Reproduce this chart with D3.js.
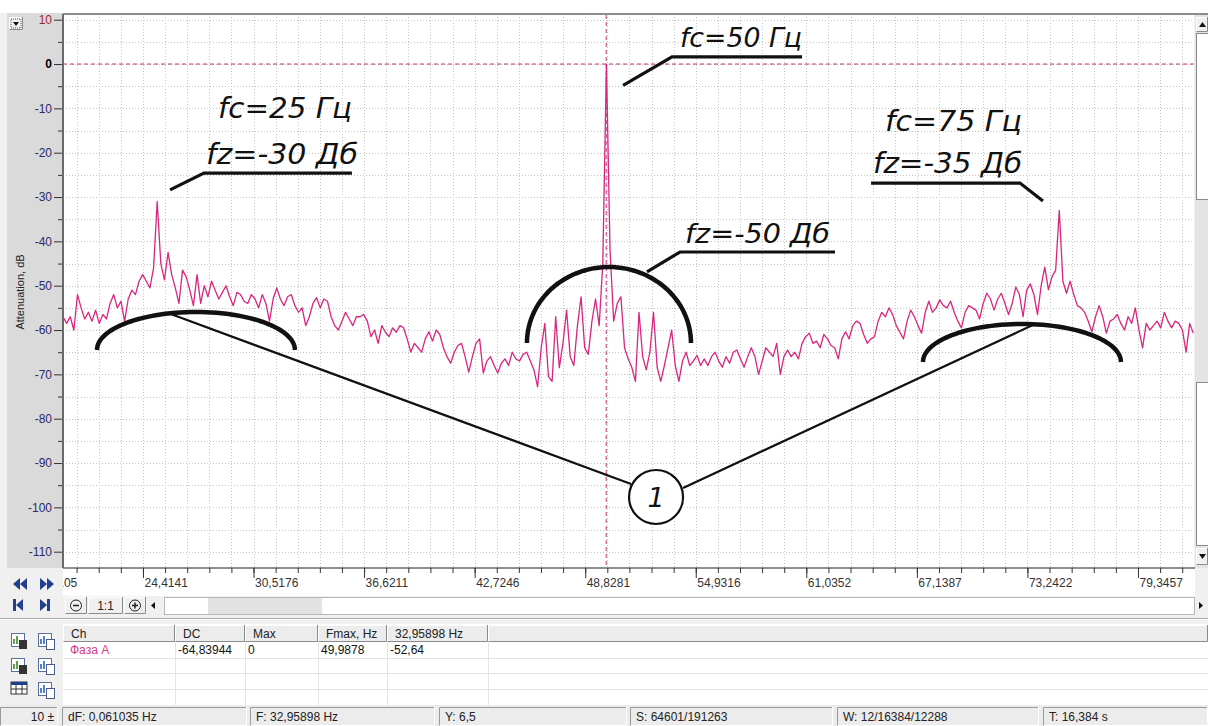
<!DOCTYPE html>
<html><head><meta charset="utf-8">
<script src="https://cdn.jsdelivr.net/npm/d3@7"></script>
<style>
html,body{margin:0;padding:0;background:#fff;}
svg{display:block;font-family:"Liberation Sans",Arial,sans-serif;}
</style></head><body>
<svg id="c" width="1208" height="726"></svg>
<script>
// Spectrum bins (Hz)
const freqHz = [
20,20.2,20.4,20.6,20.8,21,21.2,21.4,21.6,21.8,22,22.2,22.4,22.6,22.8,23,23.2,23.4,23.6,23.8,
24,24.2,24.4,24.6,24.8,25,25.2,25.4,25.6,25.8,26,26.2,26.4,26.6,26.8,27,27.2,27.4,27.6,27.8,
28,28.2,28.4,28.6,28.8,29,29.2,29.4,29.6,29.8,30,30.2,30.4,30.6,30.8,31,31.2,31.4,31.6,31.8,
32,32.2,32.4,32.6,32.8,33,33.2,33.4,33.6,33.8,34,34.2,34.4,34.6,34.8,35,35.2,35.4,35.6,35.8,
36,36.2,36.4,36.6,36.8,37,37.2,37.4,37.6,37.8,38,38.2,38.4,38.6,38.8,39,39.2,39.4,39.6,39.8,
40,40.2,40.4,40.6,40.8,41,41.2,41.4,41.6,41.8,42,42.2,42.4,42.6,42.8,43,43.2,43.4,43.6,43.8,
44,44.2,44.4,44.6,44.8,45,45.2,45.4,45.6,45.8,46,46.2,46.4,46.6,46.8,47,47.2,47.4,47.6,47.8,
48,48.2,48.4,48.6,48.8,49,49.2,49.4,49.6,49.8,50,50.2,50.4,50.6,50.8,51,51.2,51.4,51.6,51.8,
52,52.2,52.4,52.6,52.8,53,53.2,53.4,53.6,53.8,54,54.2,54.4,54.6,54.8,55,55.2,55.4,55.6,55.8,
56,56.2,56.4,56.6,56.8,57,57.2,57.4,57.6,57.8,58,58.2,58.4,58.6,58.8,59,59.2,59.4,59.6,59.8,
60,60.2,60.4,60.6,60.8,61,61.2,61.4,61.6,61.8,62,62.2,62.4,62.6,62.8,63,63.2,63.4,63.6,63.8,
64,64.2,64.4,64.6,64.8,65,65.2,65.4,65.6,65.8,66,66.2,66.4,66.6,66.8,67,67.2,67.4,67.6,67.8,
68,68.2,68.4,68.6,68.8,69,69.2,69.4,69.6,69.8,70,70.2,70.4,70.6,70.8,71,71.2,71.4,71.6,71.8,
72,72.2,72.4,72.6,72.8,73,73.2,73.4,73.6,73.8,74,74.2,74.4,74.6,74.8,75,75.2,75.4,75.6,75.8,
76,76.2,76.4,76.6,76.8,77,77.2,77.4,77.6,77.8,78,78.2,78.4,78.6,78.8,79,79.2,79.4,79.6,79.8,
80,80.2,80.4,80.6,80.8,81,81.2,81.4,81.6,81.8,82,82.2,82.4
];
// Attenuation per bin (dB), channel "Фаза А"
const attenuationDb = [
-57,-58.5,-57,-60,-52,-55,-57.5,-56,-58,-55.5,
-58.5,-56.5,-57.5,-54,-52,-55,-53.5,-58,-53,-51,
-52,-49,-47.5,-49,-50.5,-46,-31,-45,-48.7,-42.5,
-47.5,-50.5,-54,-46.5,-48,-51,-54.5,-47.5,-54,-50,
-52.5,-49,-51,-53,-51.5,-50,-52.5,-54.5,-51.5,-52,
-53.5,-54,-52,-53,-55,-52,-54,-58,-53,-50.5,
-53,-54.5,-52.5,-52,-54.5,-56,-55,-59,-57,-54,
-52.7,-55,-53,-53.5,-57,-59,-60,-58,-56,-57.5,
-59,-57,-57,-56.5,-58,-61.5,-60,-63,-59,-60.5,
-61.5,-59.5,-60.5,-59,-59.5,-62,-65,-63,-64,-65,
-62,-60.4,-62.5,-60,-61,-64,-66,-67.5,-65,-63.5,
-63,-66,-69.5,-66,-63,-62,-69.7,-67,-66,-68,
-69.7,-67.5,-66.5,-68,-65,-66.5,-67,-65.5,-65,-67,
-69,-72.8,-64,-58.5,-70.5,-71.6,-57,-68.5,-63,-55.5,
-66,-68,-59,-52.5,-64,-65.5,-58,-53,-59,-45,
0,-42,-58,-54,-52.5,-64,-66.5,-68.4,-71.6,-56,
-66,-69,-65,-56,-68.4,-71.6,-68,-64,-60,-68,
-71.6,-67,-65,-68,-67,-65.7,-68,-66.5,-68,-66,
-65,-67,-68.4,-66,-67.5,-65,-64.5,-66.5,-68.4,-66,
-64,-66,-70,-67,-64,-65,-66,-63,-70,-66,
-64.5,-66,-65,-66.5,-63,-61.5,-60.7,-63,-62.5,-64,
-61,-62,-63.5,-64,-66.5,-62,-60.4,-62,-59,-58,
-58.5,-61,-63,-62,-61.5,-58,-56,-57,-55,-56.5,
-59,-60.5,-62,-58,-55.5,-57,-59,-60.7,-56,-53.5,
-56,-55,-53.2,-54.5,-55,-53.5,-56,-58,-59.5,-56,
-54.5,-55,-55.5,-57.5,-54,-51.7,-53,-55.5,-53,-51.7,
-54,-56.5,-54,-50.3,-52,-57,-51,-49.6,-52,-56.5,
-50,-45.8,-50.9,-48,-46.5,-33,-49,-51.7,-49,-52,
-54.5,-55,-56,-58,-60.4,-57,-54.5,-57,-60.7,-58,
-57.5,-56.5,-58.5,-60,-57,-58.5,-55,-60,-64,-58.5,
-60,-59,-58,-59.5,-56,-58,-59.5,-58,-58.5,-60,
-65,-58.5,-60.7
];
const yTickValues = [10,0,-10,-20,-30,-40,-50,-60,-70,-80,-90,-100,-110];
const xTickLabels = ["18,3105","24,4141","30,5176","36,6211","42,7246","48,8281","54,9316","61,0352","67,1387","73,2422","79,3457"];
const markerFreqHz = 49.9878;
const markerLevelDb = 0;
const tableHeaders = ["Ch","DC","Max","Fmax, Hz","32,95898 Hz"];
const tableRow = ["Фаза А","-64,83944","0","49,9878","-52,64"];
const statusCells = ["dF: 0,061035 Hz","F: 32,95898 Hz","Y: 6,5","S: 64601/191263","W: 12/16384/12288","T: 16,384 s"];

const W = 1208, H = 726;
const P = {l: 63, r: 1194, t: 14, b: 568};
const svg = d3.select("#c");

const x = d3.scaleLinear().domain([20, 20 + (P.r - P.l) / 18.114]).range([P.l, P.r]);
const y = d3.scaleLinear().domain([-110, 10]).range([551.7, 19.7]);

// window chrome
svg.append("rect").attr("width", W).attr("height", H).attr("fill", "#f0f0f0");
svg.append("rect").attr("width", W).attr("height", 13).attr("fill", "#fff");
svg.append("rect").attr("x", 7).attr("y", 13).attr("width", P.l - 7).attr("height", P.b - 13).attr("fill", "#dadada");
svg.append("rect").attr("x", P.l).attr("y", P.t).attr("width", P.r - P.l).attr("height", P.b - P.t).attr("fill", "#fff");
svg.append("rect").attr("x", P.l).attr("y", P.b).attr("width", 1195 - P.l).attr("height", 28).attr("fill", "#fff");

function bevel(g, bx, by, bw, bh, sunken, fill) {
  g.append("rect").attr("x", bx).attr("y", by).attr("width", bw).attr("height", bh).attr("fill", fill || "#ececec");
  const lt = sunken ? "#9a9a9a" : "#ffffff", rb = sunken ? "#ffffff" : "#8a8a8a";
  g.append("path").attr("d", `M${bx + .5},${by + bh}V${by + .5}H${bx + bw}`).attr("stroke", lt).attr("fill", "none");
  g.append("path").attr("d", `M${bx + .5},${by + bh - .5}H${bx + bw - .5}V${by}`).attr("stroke", rb).attr("fill", "none");
}

// dropdown button
bevel(svg, 9, 17, 14, 13, false, "#f2f2f2");
svg.append("rect").attr("x", 11).attr("y", 19).attr("width", 10).attr("height", 9).attr("fill", "none").attr("stroke", "#555").attr("stroke-dasharray", "1,1");
svg.append("path").attr("d", "M13,22H19L16,26Z").attr("fill", "#111");

// grid
const grid = svg.append("g");
const minorStep = 6.103515 / 5;
const majorFreqs = xTickLabels.map(s => +s.replace(",", "."));
const minorFreqs = [];
majorFreqs.forEach(m => { for (let k = 0; k < 5; k++) minorFreqs.push(m + k * minorStep); });
minorFreqs.push(majorFreqs[majorFreqs.length - 1] + 5 * minorStep);
const inX = minorFreqs.filter(f => f > x.domain()[0] && f < x.domain()[1]);
grid.selectAll(".gv").data(inX).join("line")
  .attr("x1", d => Math.round(x(d)) + .5).attr("x2", d => Math.round(x(d)) + .5)
  .attr("y1", P.t).attr("y2", P.b)
  .attr("stroke", "#c4c4c4").attr("stroke-dasharray", "1,2");
const yGrid = d3.range(-110, 11, 5);
grid.selectAll(".gh").data(yGrid).join("line")
  .attr("x1", P.l).attr("x2", P.r)
  .attr("y1", d => Math.round(y(d)) + .5).attr("y2", d => Math.round(y(d)) + .5)
  .attr("stroke", "#c4c4c4").attr("stroke-dasharray", "1,2");

// frame
svg.append("line").attr("x1", P.l).attr("x2", W).attr("y1", P.t).attr("y2", P.t).attr("stroke", "#8c8c8c").attr("stroke-width", 2);
svg.append("line").attr("x1", P.l).attr("x2", P.l).attr("y1", P.t).attr("y2", P.b).attr("stroke", "#6a6a6a").attr("stroke-width", 2);
svg.append("line").attr("x1", P.l).attr("x2", 1195).attr("y1", P.b).attr("y2", P.b).attr("stroke", "#6a6a6a").attr("stroke-width", 1.5);

// y axis
const yMinor = svg.append("g").attr("transform", `translate(${P.l - 1},0)`)
  .call(d3.axisLeft(y).tickValues(d3.range(-105, 10, 10)).tickSize(4).tickFormat(""));
const yMajor = svg.append("g").attr("transform", `translate(${P.l - 1},0)`)
  .call(d3.axisLeft(y).tickValues(yTickValues).tickSize(8).tickPadding(2).tickFormat(d => String(d)));
[yMinor, yMajor].forEach(g => { g.select(".domain").remove(); g.selectAll("line").attr("stroke", "#333"); });
yMajor.selectAll("text").attr("font-size", 12).attr("font-family", "Liberation Sans, Arial, sans-serif")
  .attr("fill", d => d === 10 ? "#9b2a2a" : d === 0 ? "#000" : "#2a2a6a")
  .attr("font-weight", d => d === 0 ? "bold" : "normal");
svg.append("text").attr("transform", "translate(24,292) rotate(-90)").attr("text-anchor", "middle")
  .attr("font-size", 11).attr("fill", "#222").text("Attenuation, dB");

// x axis
svg.append("clipPath").attr("id", "xclip").append("rect").attr("x", P.l).attr("y", P.b).attr("width", 1195 - P.l).attr("height", 28);
const xAxisG = svg.append("g").attr("clip-path", "url(#xclip)");
const xMinor = xAxisG.append("g").attr("transform", `translate(0,${P.b})`)
  .call(d3.axisBottom(x).tickValues(minorFreqs).tickSize(5).tickFormat(""));
const xMajor = xAxisG.append("g").attr("transform", `translate(0,${P.b})`)
  .call(d3.axisBottom(x).tickValues(majorFreqs).tickSize(10).tickFormat((d, i) => xTickLabels[i]));
[xMinor, xMajor].forEach(g => { g.select(".domain").remove(); g.selectAll("line").attr("stroke", "#333"); });
xMajor.selectAll("text").attr("text-anchor", "start").attr("dx", 1).attr("y", 10).attr("dy", "0.71em")
  .attr("font-size", 12).attr("font-family", "Liberation Sans, Arial, sans-serif").attr("fill", "#333");

// marker lines
svg.append("line").attr("x1", x(markerFreqHz)).attr("x2", x(markerFreqHz)).attr("y1", P.t + 1).attr("y2", P.b)
  .attr("stroke", "#c2307c").attr("stroke-width", 1).attr("stroke-dasharray", "4,3");
svg.append("line").attr("x1", P.l).attr("x2", P.r).attr("y1", y(markerLevelDb)).attr("y2", y(markerLevelDb))
  .attr("stroke", "#c2307c").attr("stroke-width", 1).attr("stroke-dasharray", "4,3");

// spectrum trace
svg.append("clipPath").attr("id", "pclip").append("rect").attr("x", P.l).attr("y", P.t).attr("width", P.r - P.l).attr("height", P.b - P.t);
const spectrum = freqHz.map((f, i) => [f, attenuationDb[i]]);
svg.append("path").attr("clip-path", "url(#pclip)")
  .attr("d", d3.line().x(d => x(d[0])).y(d => y(d[1]))(spectrum))
  .attr("fill", "none").attr("stroke", "#d8267f").attr("stroke-width", 1.3).attr("stroke-linejoin", "round");

// callouts
const ann = svg.append("g").attr("fill", "none").attr("stroke", "#111").attr("stroke-linecap", "butt");
function label(t, f, db, w, fs) {
  svg.append("text").attr("x", x(f)).attr("y", y(db)).attr("font-family", "DejaVu Sans, sans-serif")
    .attr("font-style", "italic").attr("font-size", fs).attr("fill", "#111")
    .attr("textLength", w).attr("lengthAdjust", "spacingAndGlyphs").text(t);
}
function leader(pts, sw) {
  ann.append("path").attr("d", d3.line().x(d => x(d[0])).y(d => y(d[1]))(pts)).attr("stroke-width", sw);
}
function halfEllipse(cf, cdb, rxHz, ryDb) {
  const pts = d3.range(0, 181, 3).map(a => [cf - rxHz * Math.cos(a * Math.PI / 180), cdb + ryDb * Math.sin(a * Math.PI / 180)]);
  ann.append("path").attr("d", d3.line().x(d => x(d[0])).y(d => y(d[1]))(pts)).attr("stroke-width", 4.5);
}

label("fc=25 Гц", 28.56, -12.2, 134, 28);
label("fz=-30 Дб", 27.89, -22.6, 152, 28);
leader([[25.91, -28.4], [27.78, -24.6], [35.95, -24.6]], 3.2);

label("fc=50 Гц", 54.06, 3.8, 122, 26);
leader([[50.92, -4.8], [53.62, 1.6], [60.80, 1.6]], 3.2);

label("fc=75 Гц", 65.38, -15.1, 137, 28);
label("fz=-35 Дб", 64.72, -24.6, 149, 28);
leader([[64.61, -26.85], [72.83, -26.85], [74.10, -30.9]], 3.2);

label("fz=-50 Дб", 54.34, -40.4, 145, 27);
leader([[52.24, -46.9], [54.06, -42.4], [62.62, -42.4]], 3.2);

halfEllipse(27.34, -64.5, 5.465, 8.57);
halfEllipse(50.14, -62.92, 4.527, 17.14);
halfEllipse(72.94, -67.21, 5.465, 8.57);

leader([[25.80, -56.16], [51.36, -94.72]], 2.2);
leader([[73.66, -58.64], [54.23, -95.63]], 2.2);
ann.append("circle").attr("cx", x(52.74)).attr("cy", y(-97.66)).attr("r", 27).attr("fill", "#fff").attr("stroke-width", 2.2);
svg.append("text").attr("x", x(52.74)).attr("y", y(-97.66) + 10).attr("text-anchor", "middle")
  .attr("font-family", "DejaVu Sans, sans-serif").attr("font-style", "italic").attr("font-size", 27).attr("fill", "#111").text("1");

// vertical scrollbar
const vs = svg.append("g");
vs.append("rect").attr("x", 1195).attr("y", 15).attr("width", 13).attr("height", P.b - 15).attr("fill", "#e4e4e4");
bevel(vs, 1196, 17, 12, 15, false, "#f0f0f0");
vs.append("path").attr("d", "M1199,27H1206L1202.5,22Z").attr("fill", "#111");
vs.append("rect").attr("x", 1196.5).attr("y", 33.5).attr("width", 12).attr("height", 166).attr("fill", "#fff").attr("stroke", "#8a8a8a");
vs.append("rect").attr("x", 1196.5).attr("y", 382.5).attr("width", 12).attr("height", 163).attr("fill", "#fff").attr("stroke", "#8a8a8a");
bevel(vs, 1196, 548, 12, 17, false, "#f0f0f0");
vs.append("path").attr("d", "M1199,554H1206L1202.5,559Z").attr("fill", "#111");

// navigation arrows
const nav = svg.append("g").attr("fill", "#223f90");
nav.append("path").attr("d", "M13,584L20,578V590Z M20,584L27,578V590Z");
nav.append("path").attr("d", "M47,584L40,578V590Z M54,584L47,578V590Z");
nav.append("path").attr("d", "M13,599H16V611H13Z M16,605L23,599V611Z");
nav.append("path").attr("d", "M47,605L40,599V611Z M47,599H50V611H47Z");

// zoom / horizontal scroll row
const hs = svg.append("g");
bevel(hs, 65, 597, 22, 17, false, "#f0f0f0");
hs.append("circle").attr("cx", 76).attr("cy", 605.5).attr("r", 5.5).attr("fill", "none").attr("stroke", "#222");
hs.append("line").attr("x1", 73).attr("x2", 79).attr("y1", 605.5).attr("y2", 605.5).attr("stroke", "#222").attr("stroke-width", 1.5);
bevel(hs, 88, 597, 35, 17, false, "#f0f0f0");
hs.append("text").attr("x", 105.5).attr("y", 610).attr("text-anchor", "middle").attr("font-size", 12).attr("fill", "#222").text("1:1");
bevel(hs, 124, 597, 22, 17, false, "#f0f0f0");
hs.append("circle").attr("cx", 135).attr("cy", 605.5).attr("r", 5.5).attr("fill", "none").attr("stroke", "#222");
hs.append("path").attr("d", "M132,605.5H138M135,602.5V608.5").attr("stroke", "#222").attr("stroke-width", 1.5);
hs.append("path").attr("d", "M151,605.5L155,602V609Z").attr("fill", "#111");
hs.append("rect").attr("x", 164.5).attr("y", 597.5).attr("width", 1030).attr("height", 17).attr("fill", "#fff").attr("stroke", "#b8b8b8");
hs.append("rect").attr("x", 208).attr("y", 598).attr("width", 114).attr("height", 16).attr("fill", "#e2e2e2");
hs.append("path").attr("d", "M1203,605.5L1199,602V609Z").attr("fill", "#111");
svg.append("line").attr("x1", 0).attr("x2", W).attr("y1", 618.5).attr("y2", 618.5).attr("stroke", "#a8a8a8");
svg.append("line").attr("x1", 0).attr("x2", W).attr("y1", 619.5).attr("y2", 619.5).attr("stroke", "#fff");

// left icon column
const icons = svg.append("g");
[[11, 633], [38, 633], [11, 658], [38, 658], [11, 682], [38, 682]].forEach((p, i) => {
  const g = icons.append("g").attr("transform", `translate(${p[0]},${p[1]})`);
  if (i === 4) {
    g.append("rect").attr("width", 16).attr("height", 12).attr("fill", "#fff").attr("stroke", "#333");
    g.append("rect").attr("width", 16).attr("height", 3).attr("fill", "#1e3e8e");
    g.append("path").attr("d", "M0,7H16M5,3V12M11,3V12").attr("stroke", "#333");
    return;
  }
  g.append("rect").attr("x", .5).attr("y", .5).attr("width", 13).attr("height", 13).attr("fill", "#fff").attr("stroke", "#5a6e9a");
  g.append("path").attr("d", "M3,11V6M6,11V3M9,11V7").attr("stroke", i % 2 ? "#2f62c0" : "#3b8a2e").attr("stroke-width", 1.6);
  if (i % 2 === 0) g.append("rect").attr("x", 8).attr("y", 7).attr("width", 8).attr("height", 9).attr("fill", "#333");
  else g.append("rect").attr("x", 8.5).attr("y", 6.5).attr("width", 8).attr("height", 10).attr("fill", "#fff").attr("stroke", "#4a5a8a");
});

// measurement table
const tbl = svg.append("g");
const colX = [63, 175, 245, 318, 387, 488, W];
tbl.append("rect").attr("x", 63).attr("y", 624).attr("width", W - 63).attr("height", 82).attr("fill", "#fff");
for (let c = 0; c < colX.length - 1; c++) bevel(tbl, colX[c], 625, colX[c + 1] - colX[c], 17, false, "#ececec");
tbl.selectAll(".hd").data(tableHeaders).join("text")
  .attr("x", (d, i) => colX[i] + 8).attr("y", 638).attr("font-size", 12).attr("fill", "#222").text(d => d);
[658, 673, 689].forEach(ry => tbl.append("line").attr("x1", 63).attr("x2", W).attr("y1", ry + .5).attr("y2", ry + .5).attr("stroke", "#e4e4e4"));
colX.slice(1, 6).forEach(cx => tbl.append("line").attr("x1", cx + .5).attr("x2", cx + .5).attr("y1", 642).attr("y2", 705).attr("stroke", "#e4e4e4"));
tbl.selectAll(".rw").data(tableRow).join("text")
  .attr("x", (d, i) => colX[i] + (i === 0 ? 7 : 3)).attr("y", 654).attr("font-size", 12)
  .attr("fill", (d, i) => i === 0 ? "#d03a8c" : "#111").text(d => d);

// status bar
const sb = svg.append("g");
sb.append("rect").attr("x", 0).attr("y", 705).attr("width", W).attr("height", 21).attr("fill", "#ececec");
const cellX = [[0, 58], [62, 247], [250, 435], [439, 627], [630, 833], [837, 1039], [1043, W]];
cellX.forEach(c => bevel(sb, c[0], 707, c[1] - c[0], 19, true, "#ececec"));
sb.append("text").attr("x", 54).attr("y", 721).attr("text-anchor", "end").attr("font-size", 12).attr("fill", "#222").text("10 ±");
sb.selectAll(".st").data(statusCells).join("text")
  .attr("x", (d, i) => cellX[i + 1][0] + 6).attr("y", 721).attr("font-size", 12).attr("fill", "#222").text(d => d);
</script>
</body></html>
